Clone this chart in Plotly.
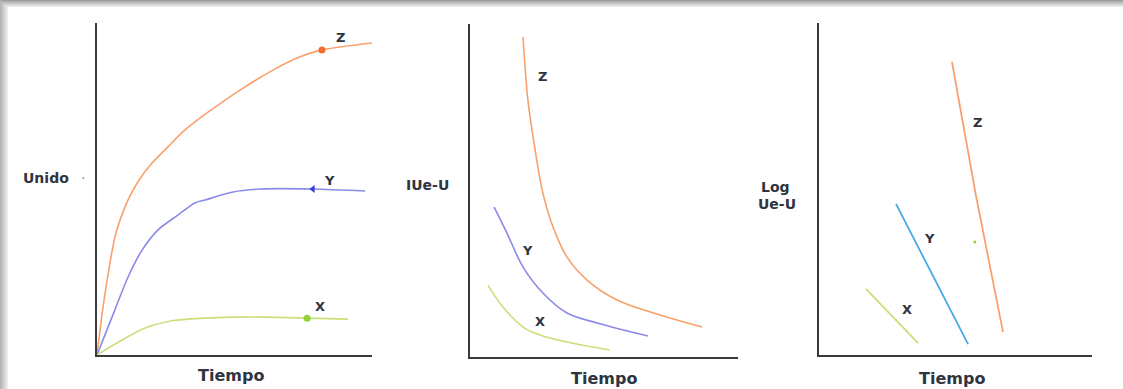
import plotly.graph_objects as go

W, H = 1123, 389

# ---------------- data (schematic units 0..10) ----------------
# Panel 1: Unido vs Tiempo
p1_z_x = [0, 0.22, 0.47, 0.65, 0.84, 1.13, 1.49, 2.0, 2.58, 3.2, 4.0, 5.2, 6.4, 7.38, 8.18, 10.0]
p1_z_y = [0, 1.45, 2.77, 3.55, 4.07, 4.67, 5.22, 5.78, 6.27, 6.78, 7.29, 7.98, 8.58, 8.98, 9.19, 9.40]
p1_y_x = [0, 0.65, 1.13, 1.64, 2.22, 2.95, 3.56, 3.93, 4.95, 5.93, 7.85, 9.75]
p1_y_y = [0, 1.36, 2.35, 3.16, 3.77, 4.22, 4.58, 4.67, 4.91, 5.0, 5.0, 4.94]
p1_x_x = [0, 0.91, 1.75, 2.73, 3.93, 4.95, 6.18, 7.64, 9.13]
p1_x_y = [0, 0.45, 0.81, 1.03, 1.11, 1.14, 1.14, 1.11, 1.08]
p1_marks = {"Z": (8.18, 9.19), "Y": (7.85, 5.0), "X": (7.64, 1.11)}
p1_labels = {"Z": (8.84, 9.55), "Y": (8.47, 5.27), "X": (8.11, 1.45)}

# Panel 2: |Ue-U| vs Tiempo
p2_z_x = [1.98, 2.16, 2.43, 2.72, 3.10, 3.62, 4.37, 5.49, 7.09, 8.66]
p2_z_y = [9.61, 7.72, 6.22, 4.92, 3.90, 3.00, 2.31, 1.71, 1.26, 0.90]
p2_y_x = [0.90, 1.38, 1.98, 2.72, 3.62, 4.85, 6.64]
p2_y_y = [4.50, 3.72, 2.70, 1.92, 1.32, 1.00, 0.63]
p2_x_x = [0.67, 1.23, 1.98, 2.61, 3.62, 5.22]
p2_x_y = [2.16, 1.50, 0.90, 0.66, 0.45, 0.21]
p2_labels = {"Z": (2.69, 8.41), "Y": (2.16, 3.21), "X": (2.61, 1.08)}

# Panel 3: Log Ue-U vs Tiempo
p3_z_x = [4.87, 5.75, 6.74]
p3_z_y = [8.83, 4.80, 0.69]
p3_y_x = [2.82, 5.46]
p3_y_y = [4.55, 0.33]
p3_x_x = [1.72, 3.63]
p3_x_y = [1.99, 0.36]
p3_dot = (5.71, 3.40)
p3_labels = {"Z": (5.79, 6.99), "Y": (4.03, 3.52), "X": (3.22, 1.36)}

ORANGE = "#f9a06a"
ORANGE_M = "#f26a34"
BLUE = "#8a8ae8"
BLUE_M = "#3b3bd6"
GREEN = "#c8e07a"
GREEN_M = "#92d236"
SKY = "#46aaea"
TXT = "#2e3440"
FONT = "DejaVu Sans"

# panel pixel boxes: (left, right, top, bottom)
boxes = [(97, 372, 23, 355), (470, 738, 24, 357), (819, 1092, 23, 355)]


def px(x):
    return x / W


def py(y):
    return 1 - y / H


fig = go.Figure()


def line(xs, ys, color, k, width=1.6, shape="spline", smoothing=0.8):
    fig.add_trace(go.Scatter(x=xs, y=ys, mode="lines",
                             line=dict(color=color, width=width, shape=shape, smoothing=smoothing),
                             xaxis=f"x{k}" if k > 1 else "x",
                             yaxis=f"y{k}" if k > 1 else "y",
                             hoverinfo="skip", showlegend=False))


# Panel 1
line(p1_z_x, p1_z_y, ORANGE, 1)
line(p1_y_x, p1_y_y, BLUE, 1)
line(p1_x_x, p1_x_y, GREEN, 1)
for key, col, sym in [("Z", ORANGE_M, "circle"), ("Y", BLUE_M, "triangle-left"), ("X", GREEN_M, "circle")]:
    mx, my = p1_marks[key]
    fig.add_trace(go.Scatter(x=[mx], y=[my], mode="markers",
                             marker=dict(color=col, size=7, symbol=sym),
                             xaxis="x", yaxis="y", hoverinfo="skip", showlegend=False))

# Panel 2
line(p2_z_x, p2_z_y, ORANGE, 2, smoothing=1.0)
line(p2_y_x, p2_y_y, BLUE, 2, smoothing=1.0)
line(p2_x_x, p2_x_y, GREEN, 2, smoothing=1.0)

# Panel 3
line(p3_z_x, p3_z_y, ORANGE, 3, width=1.8, shape="linear")
line(p3_y_x, p3_y_y, SKY, 3, width=1.8, shape="linear")
line(p3_x_x, p3_x_y, GREEN, 3, width=1.8, shape="linear")
fig.add_trace(go.Scatter(x=[p3_dot[0]], y=[p3_dot[1]], mode="markers",
                         marker=dict(color=GREEN_M, size=3),
                         xaxis="x3", yaxis="y3", hoverinfo="skip", showlegend=False))

annotations = []
for k, labels in [(1, p1_labels), (2, p2_labels), (3, p3_labels)]:
    for key, (lx, ly) in labels.items():
        annotations.append(dict(x=lx, y=ly, text=f"<b>{key}</b>", showarrow=False,
                                xref=f"x{k}" if k > 1 else "x",
                                yref=f"y{k}" if k > 1 else "y",
                                font=dict(family=FONT, size=13, color=TXT)))


def ptext(x, y, text, size=14):
    annotations.append(dict(x=px(x), y=py(y), xref="paper", yref="paper", text=f"<b>{text}</b>",
                            showarrow=False, font=dict(family=FONT, size=size, color=TXT),
                            xanchor="center", yanchor="middle"))


ptext(46, 178, "Unido")
annotations.append(dict(x=px(79), y=py(178), xref="paper", yref="paper", text="·", showarrow=False,
                        font=dict(family=FONT, size=14, color="#3aa0e0")))
ptext(427, 185, "IUe-U")
ptext(775, 187, "Log")
ptext(777, 204, "Ue-U")
ptext(231, 375, "Tiempo", 16)
ptext(604, 378, "Tiempo", 16)
ptext(952, 378, "Tiempo", 16)

layout = dict(width=W, height=H, margin=dict(l=0, r=0, t=0, b=0),
              paper_bgcolor="white", plot_bgcolor="white", annotations=annotations)
for i, (l, r, t, b) in enumerate(boxes, start=1):
    sx = "" if i == 1 else str(i)
    ax_style = dict(showline=True, linecolor="#3a3a3a", linewidth=2, showgrid=False,
                    zeroline=False, showticklabels=False, ticks="", range=[0, 10], fixedrange=True)
    layout[f"xaxis{sx}"] = dict(domain=[px(l), px(r)], anchor=f"y{sx}", **ax_style)
    layout[f"yaxis{sx}"] = dict(domain=[py(b), py(t)], anchor=f"x{sx}", **ax_style)

# soft grey frame shadow at top and left
shapes = []
grays = ["#9e9e9e", "#adadad", "#bbbbbb", "#c8c8c8", "#d4d4d4", "#e0e0e0", "#ebebeb"]
for j, g in enumerate(grays):
    shapes.append(dict(type="rect", xref="paper", yref="paper", x0=0, x1=1,
                       y0=py(j + 1), y1=py(j), fillcolor=g, line=dict(width=0), layer="below"))
lgrays = ["#b5b5b5", "#bdbdbd", "#c5c5c5", "#cdcdcd", "#d5d5d5", "#dddddd", "#e6e6e6", "#efefef"]
for j, g in enumerate(lgrays):
    shapes.append(dict(type="rect", xref="paper", yref="paper", x0=px(j), x1=px(j + 1),
                       y0=0, y1=py(j), fillcolor=g, line=dict(width=0), layer="below"))
layout["shapes"] = shapes

fig.update_layout(**layout)
fig.write_html("out.html")
